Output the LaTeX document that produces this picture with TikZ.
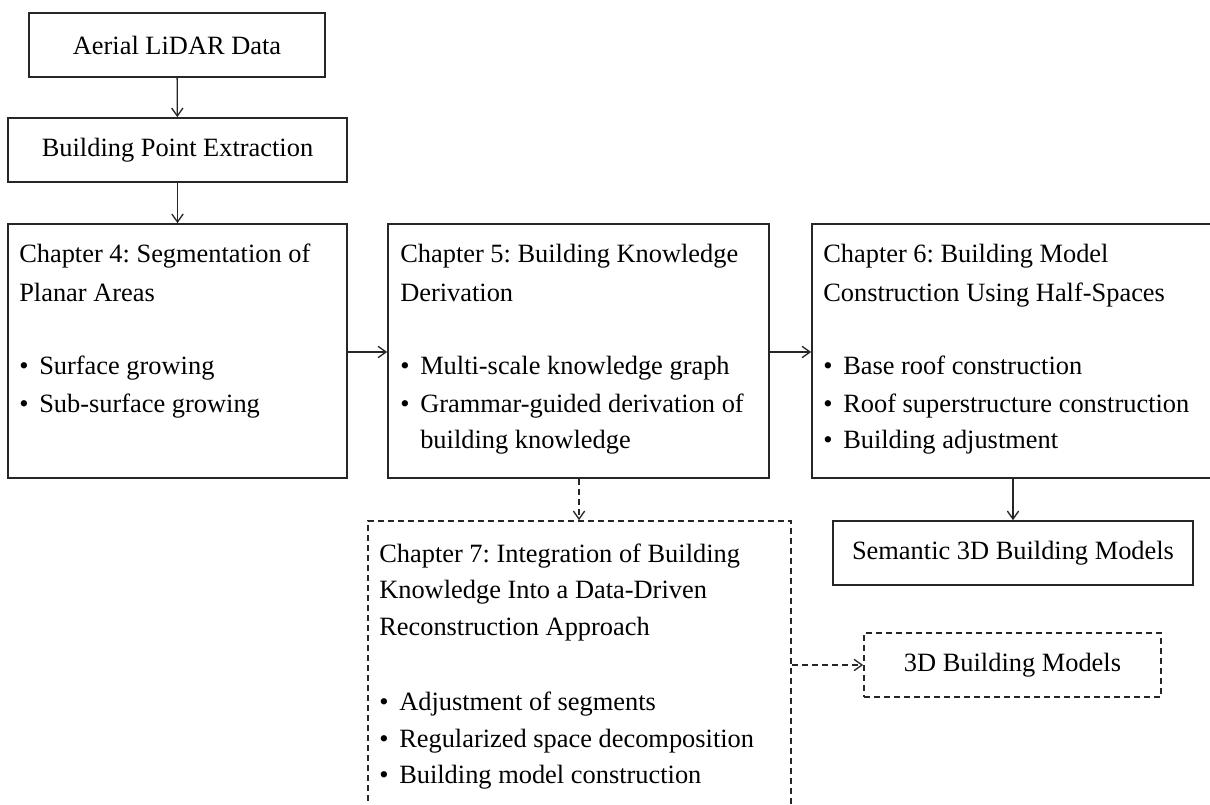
\documentclass[tikz,border=0pt]{standalone}
\usepackage{fontspec}
\setmainfont{Liberation Serif}
\usetikzlibrary{arrows.meta}
\begin{document}
\frenchspacing
\begin{tikzpicture}[x=0.75pt,y=-0.75pt,
  every node/.style={font=\fontsize{19.8pt}{27.75pt}\selectfont},
  box/.style={draw=black!85,line width=1.25pt,inner sep=0pt},
  dbox/.style={box,dashed,dash pattern=on 4.5pt off 3pt},
  txt/.style={anchor=base west,inner sep=0pt},
  conn/.style={draw=black!85,line width=1pt,-{Straight Barb[length=6pt,width=8.5pt]}},
  dconn/.style={conn,dash pattern=on 4.5pt off 3pt}]
\useasboundingbox (0,0) rectangle (1210,805);

% input chain
\node[box,minimum width=296*0.75pt,minimum height=64*0.75pt] (aerial) at (177,45) {Aerial LiDAR Data};
\node[box,minimum width=339*0.75pt,minimum height=64*0.75pt] (bpe) at (177.5,150) {Building Point Extraction};

% chapter boxes
\node[box,minimum width=339*0.75pt,minimum height=254*0.75pt] (ch4) at (177.5,351) {};
\node[box,minimum width=381*0.75pt,minimum height=254*0.75pt] (ch5) at (578.5,351) {};
\node[box,minimum width=402*0.75pt,minimum height=254*0.75pt] (ch6) at (1013,351) {};
\node[dbox,minimum width=423*0.75pt,minimum height=320*0.75pt] (ch7) at (579.5,681) {};

% outputs
\node[box,minimum width=360*0.75pt,minimum height=64*0.75pt] (sem) at (1013,553) {Semantic 3D Building Models};
\node[dbox,minimum width=297*0.75pt,minimum height=64*0.75pt] (bm) at (1012.5,665) {3D Building Models};

% chapter 4 text
\node[txt] (c4a) at (19,263) {Chapter 4: Segmentation of};
\node[txt] (c4b) at (19,302) {Planar Areas};
\node[txt] (c4c) at (19,375) {\makebox[15pt][l]{•}Surface growing};
\node[txt] (c4d) at (19,412) {\makebox[15pt][l]{•}Sub-surface growing};

% chapter 5 text
\node[txt] (c5a) at (400,263) {Chapter 5: Building Knowledge};
\node[txt] (c5b) at (400,302) {Derivation};
\node[txt] (c5c) at (400,375) {\makebox[15pt][l]{•}Multi-scale knowledge graph};
\node[txt] (c5d) at (400,412) {\makebox[15pt][l]{•}Grammar-guided derivation of};
\node[txt] (c5e) at (420,448) {building knowledge};

% chapter 6 text
\node[txt] (c6a) at (823,263) {Chapter 6: Building Model};
\node[txt] (c6b) at (823,302) {Construction Using Half-Spaces};
\node[txt] (c6c) at (823,375) {\makebox[15pt][l]{•}Base roof construction};
\node[txt] (c6d) at (823,412) {\makebox[15pt][l]{•}Roof superstructure construction};
\node[txt] (c6e) at (823,448) {\makebox[15pt][l]{•}Building adjustment};

% chapter 7 text
\node[txt] (c7a) at (379,562) {Chapter 7: Integration of Building};
\node[txt] (c7b) at (379,598) {Knowledge Into a Data-Driven};
\node[txt] (c7c) at (379,635) {Reconstruction Approach};
\node[txt] (c7d) at (379,710) {\makebox[15pt][l]{•}Adjustment of segments};
\node[txt] (c7e) at (379,747) {\makebox[15pt][l]{•}Regularized space decomposition};
\node[txt] (c7f) at (379,783) {\makebox[15pt][l]{•}Building model construction};

% connectors
\draw[conn] (aerial) -- (bpe);
\draw[conn] (bpe) -- (ch4);
\draw[conn] (ch4.east |- 0,352) -- (ch5.west |- 0,352);
\draw[conn] (ch5.east |- 0,352) -- (ch6.west |- 0,352);
\draw[conn] (ch6.south) -- (sem.north);
\draw[dconn] (ch5.south -| 579,0) -- (ch7.north -| 579,0);
\draw[dconn] (ch7.east |- bm.west) -- (bm.west);
\end{tikzpicture}
\end{document}
